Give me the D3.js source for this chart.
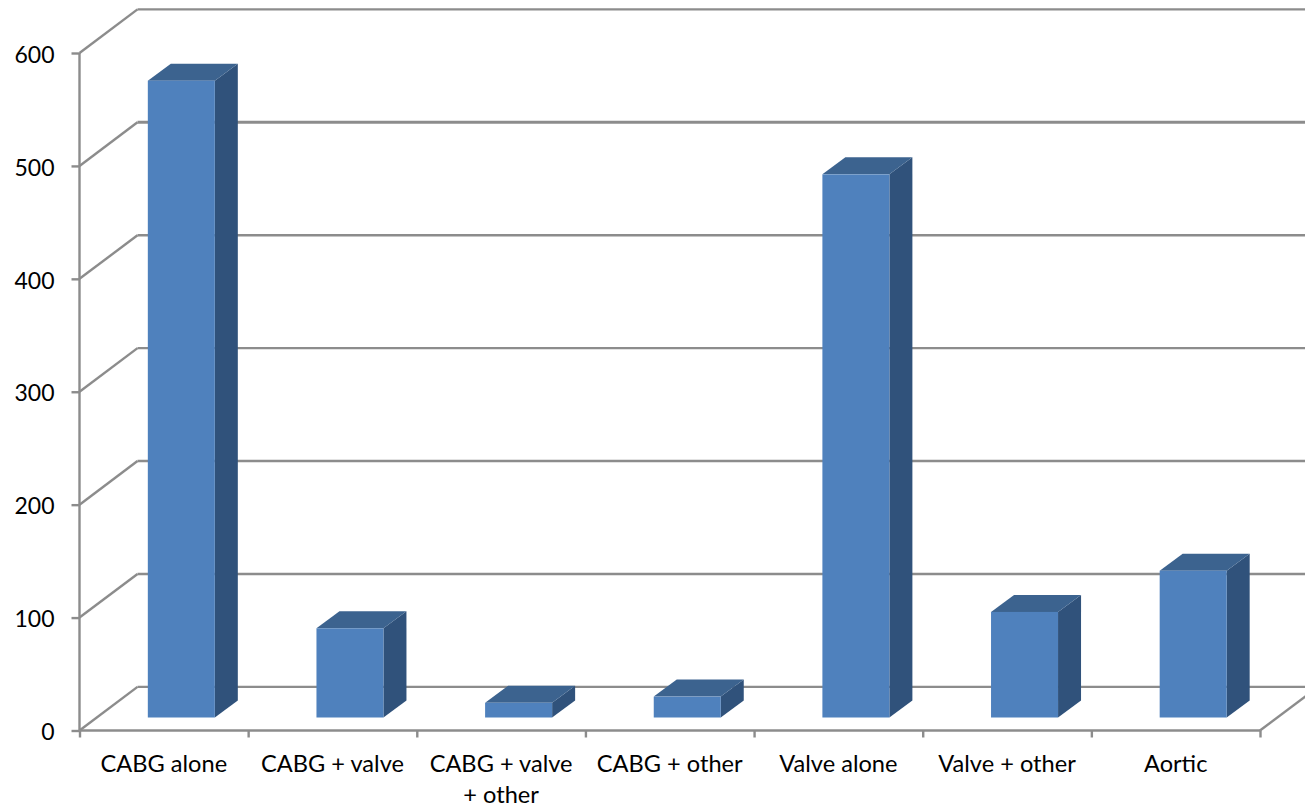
<!DOCTYPE html>
<html><head><meta charset="utf-8">
<script src="https://cdnjs.cloudflare.com/ajax/libs/d3/7.8.5/d3.min.js"></script>
<style>html,body{margin:0;padding:0;background:#fff;overflow:hidden}svg{display:block}
text{font-family:Lato,"Open Sans",sans-serif;font-size:23.6px;fill:#000}
.yt text{font-size:23px}</style></head><body>
<script>
const categories=[["CABG alone"],["CABG + valve"],["CABG + valve","+ other"],["CABG + other"],["Valve alone"],["Valve + other"],["Aortic"]];
const values=[564,79,13,18.5,481,93.5,130];
const yTicks=[0,100,200,300,400,500,600];
const W=1305,H=808,x0=79.5,x1=1260,y0=730.5,y6=53;
const depth={dx:58,dy:-43.6}, barDepth={dx:23,dy:-17}, barShift={dx:17.5,dy:-13};
const names=categories.map((d,i)=>i);
const x=d3.scaleBand().domain(names).range([x0,x1]);
const y=d3.scaleLinear().domain([0,600]).range([y0,y6]);
const svg=d3.select("body").append("svg").attr("width",W).attr("height",H);
const grid="#8c8c8c";
const line=(a,b,c,d,w=2.4)=>svg.append("line").attr("x1",a).attr("y1",b).attr("x2",c).attr("y2",d).attr("stroke",grid).attr("stroke-width",w);
yTicks.forEach(t=>{
  line(x0,y(t),x0+depth.dx,y(t)+depth.dy);
  line(x0+depth.dx,y(t)+depth.dy,x1+depth.dx,y(t)+depth.dy,t===500?3:2.4);
});
line(x1,y0,x1+depth.dx,y0+depth.dy);
// axes
const axY=svg.append("g").attr("class","yt").attr("transform",`translate(${x0},0)`).call(d3.axisLeft(y).tickValues(yTicks).tickSize(8).tickPadding(17));
axY.selectAll("text").attr("dy","0.4em");
const axX=svg.append("g").attr("transform",`translate(0,${y0})`).call(d3.axisBottom(d3.scaleLinear().domain([0,7]).range([x0,x1])).tickValues(d3.range(8)).tickSize(7).tickFormat(""));
[axY,axX].forEach(a=>{a.selectAll("path,line").attr("stroke",grid).attr("stroke-width",2.4);a.attr("font-family",null).attr("font-size",null)});
axY.select(".domain").attr("d",`M0,${y6}V${y0}`);
axX.select(".domain").attr("d",`M${x0},0H${x1}`);
// labels
const lab=svg.append("g").selectAll("text").data(categories).join("text").attr("text-anchor","middle")
 .attr("transform",(d,i)=>`translate(${x(i)+x.bandwidth()/2},772)`);
lab.selectAll("tspan").data(d=>d).join("tspan").attr("x",0).attr("y",(d,i)=>i*31).text(d=>d);
// bars
const bw=67;
const bars=svg.append("g").selectAll("g").data(values).join("g")
 .attr("transform",(d,i)=>`translate(${x(i)+x.bandwidth()/2+barShift.dx-bw/2},${barShift.dy})`);
bars.append("path").attr("fill","#30527b").attr("d",d=>`M${bw},${y(d)}l${barDepth.dx},${barDepth.dy}V${y0+barDepth.dy}L${bw},${y0}Z`);
bars.append("path").attr("fill","#3c638f").attr("d",d=>`M0,${y(d)}l${barDepth.dx},${barDepth.dy}h${bw}l${-barDepth.dx},${-barDepth.dy}Z`);
bars.append("rect").attr("x",0).attr("width",bw).attr("y",d=>y(d)).attr("height",d=>y0-y(d)).attr("fill","#4f81bd");
</script></body></html>
